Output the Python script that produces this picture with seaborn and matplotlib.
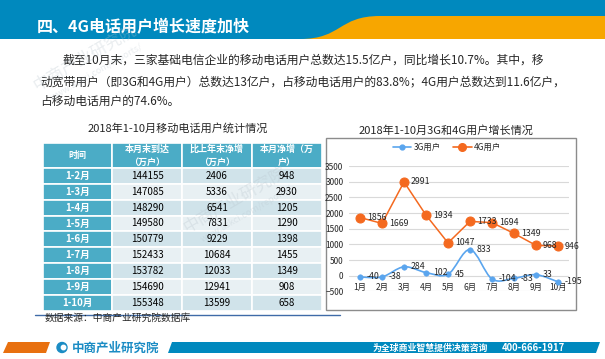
import numpy as np
import pandas as pd
import seaborn as sns
import matplotlib.pyplot as plt
from matplotlib.patches import Rectangle, Polygon, PathPatch, Circle
from matplotlib.path import Path
from matplotlib.lines import Line2D

# chart data
months = ['1月', '2月', '3月', '4月', '5月', '6月', '7月', '8月', '9月', '10月']
users_3g = [-40, -38, 284, 102, 45, 833, -104, -83, 33, -195]
users_4g = [1856, 1669, 2991, 1934, 1047, 1733, 1694, 1349, 968, 946]

# table data
periods = ['1-2月', '1-3月', '1-4月', '1-5月', '1-6月', '1-7月', '1-8月', '1-9月', '1-10月']
arrivals = [144155, 147085, 148290, 149580, 150779, 152433, 153782, 154690, 155348]
ytd_net = [2406, 5336, 6541, 7831, 9229, 10684, 12033, 12941, 13599]
month_net = [948, 2930, 1205, 1290, 1398, 1455, 1349, 908, 658]
headers = ['时间', '本月末到达\n（万户）', '比上年末净增\n（万户）', '本月净增（万\n户）']

title = '四、4G电话用户增长速度加快'
body = ['截至10月末，三家基础电信企业的移动电话用户总数达15.5亿户，同比增长10.7%。其中，移',
        '动宽带用户（即3G和4G用户）总数达13亿户，占移动电话用户的83.8%；4G用户总数达到11.6亿户，',
        '占移动电话用户的74.6%。']

BLUE = '#0089BE'
TEAL = '#4BACC6'
C3G = '#5AA5EE'
C4G = '#F4691F'

sns.set_theme(style='white')
plt.rcParams['font.family'] = ['Noto Sans CJK SC', 'DejaVu Sans']

fig = plt.figure(figsize=(6.05, 3.59), dpi=100)
fig.patch.set_facecolor('white')

# background layer in pixel coords
bg = fig.add_axes([0, 0, 1, 1])
bg.set_xlim(0, 605)
bg.set_ylim(359, 0)
bg.axis('off')

# header band
bg.add_patch(Rectangle((0, 0), 605, 39, color=BLUE, lw=0))
wave = Path([(300, 39), (342, 39), (338, 16), (380, 16), (605, 16), (605, 39), (300, 39)],
            [Path.MOVETO, Path.CURVE4, Path.CURVE4, Path.CURVE4, Path.LINETO, Path.LINETO, Path.CLOSEPOLY])
bg.add_patch(PathPatch(wave, color='#F7A600', lw=0))
bg.text(37, 27, title, color='white', fontsize=11.5, fontweight='bold', va='center')

# body text
bg.text(63, 60, body[0], fontsize=8.5, va='center')
bg.text(40, 82, body[1], fontsize=8.5, va='center')
bg.text(40, 101, body[2], fontsize=8.5, va='center')

# watermarks
for (wx, wy) in [(85, 58), (235, 200)]:
    bg.text(wx, wy, '中商产业研究院', fontsize=12, color='#B8C4CC', alpha=0.3,
            rotation=30, ha='center', va='center')
    bg.text(wx + 12, wy + 14, 'www.askci.com/reports/', fontsize=6.5, color='#B8C4CC', alpha=0.3,
            rotation=30, ha='center', va='center')

# table
bg.text(178, 128, '2018年1-10月移动电话用户统计情况', fontsize=8, ha='center', va='center')
col_edges = [43, 112, 182, 252, 322]
top, head_h, row_h = 143, 25, 15.85
for j in range(4):
    bg.add_patch(Rectangle((col_edges[j], top), col_edges[j + 1] - col_edges[j], head_h,
                           facecolor=TEAL, edgecolor='white', lw=1.2))
    bg.text((col_edges[j] + col_edges[j + 1]) / 2, top + head_h / 2, headers[j], color='white',
            fontsize=6.5, fontweight='bold', ha='center', va='center', linespacing=1.5)
for i, p in enumerate(periods):
    y0 = top + head_h + i * row_h
    fill = '#D0E3EA' if i % 2 == 0 else '#E8F0F3'
    cells = [p, arrivals[i], ytd_net[i], month_net[i]]
    for j in range(4):
        bg.add_patch(Rectangle((col_edges[j], y0), col_edges[j + 1] - col_edges[j], row_h,
                               facecolor=TEAL if j == 0 else fill, edgecolor='white', lw=1.2))
        bg.text((col_edges[j] + col_edges[j + 1]) / 2, y0 + row_h / 2, str(cells[j]),
                color='white' if j == 0 else 'black', fontweight='bold' if j == 0 else 'normal',
                fontsize=7, ha='center', va='center')

bg.plot([35, 340], [315, 315], color='#3F6BA8', lw=1)
bg.text(45, 318, '数据来源：中商产业研究院数据库', fontsize=7, va='center')

# chart box and title
bg.add_patch(Rectangle((326, 138), 250, 172, facecolor='none', edgecolor='#8C8C8C', lw=1))
bg.text(446, 130, '2018年1-10月3G和4G用户增长情况', fontsize=8, ha='center', va='center')

# footer
bg.add_patch(Polygon([(3, 353), (8, 342), (50, 342), (46, 353)], color='#E8700F', lw=0))
bg.add_patch(Circle((62, 347.5), 5, color='#1B8CC4'))
bg.add_patch(Circle((63.5, 347.5), 2.2, color='white'))
bg.text(72, 348, '中商产业研究院', color='#1B8CC4', fontsize=9, fontweight='bold', va='center')
bg.add_patch(Polygon([(168, 353), (172, 342), (600, 342), (596, 353)], color=BLUE, lw=0))
bg.text(373, 348, '为全球商业智慧提供决策咨询', color='white', fontsize=6.4, fontweight='bold', va='center')
bg.text(502, 348, '400-666-1917', color='white', fontsize=6.8, fontweight='bold', va='center')

# line chart
ax = fig.add_axes([349 / 605, 1 - 291.4 / 359, 220 / 605, 125.4 / 359])
ax.set_facecolor('none')
x = np.arange(len(months))
df = pd.DataFrame({'x': x, 'g3': users_3g, 'g4': users_4g})


def smooth_path(xs, ys):
    pts = np.column_stack([xs, ys]).astype(float)
    ext = np.vstack([pts[0], pts, pts[-1]])
    verts = [pts[0]]
    codes = [Path.MOVETO]
    for i in range(len(pts) - 1):
        p0, p1, p2, p3 = ext[i], ext[i + 1], ext[i + 2], ext[i + 3]
        verts += [p1 + (p2 - p0) / 6, p2 - (p3 - p1) / 6, p2]
        codes += [Path.CURVE4] * 3
    return Path(verts, codes)


ax.add_patch(PathPatch(smooth_path(df['x'], df['g3']), facecolor='none', edgecolor=C3G, lw=1.2))
sns.scatterplot(data=df, x='x', y='g3', ax=ax, color=C3G, s=16, edgecolor=C3G, zorder=3)
sns.lineplot(data=df, x='x', y='g4', ax=ax, color=C4G, lw=1.1, marker='o', markersize=6.5,
             markeredgecolor=C4G, zorder=3)

for i in range(len(months)):
    ax.annotate(str(users_4g[i]), (x[i], users_4g[i]), xytext=(5, 0), textcoords='offset points',
                fontsize=6.3, ha='left', va='center')
    ax.annotate(str(users_3g[i]), (x[i], users_3g[i]), xytext=(5, 0), textcoords='offset points',
                fontsize=6.3, ha='left', va='center')

ax.set_xlim(-0.5, 9.5)
ax.set_ylim(-500, 3500)
ax.set_yticks(range(-500, 3501, 500))
ax.yaxis.grid(True, color='#D9D9D9', lw=0.8)
ax.set_axisbelow(True)
ax.set_xticks(x, months)
for s in ax.spines.values():
    s.set_visible(False)
ax.spines['bottom'].set_position(('data', 0))
ax.tick_params(axis='x', length=0, labelsize=6, pad=5)
ax.tick_params(axis='y', length=0, labelsize=6, pad=4)
ax.set_xlabel('')
ax.set_ylabel('')

handles = [Line2D([], [], color=C3G, marker='o', ms=3.5, lw=1.2),
           Line2D([], [], color=C4G, marker='o', ms=5.5, lw=1.2)]
fig.legend(handles, ['3G用户', '4G用户'], loc='center', bbox_to_anchor=(447 / 605, 1 - 147 / 359),
           ncol=2, frameon=False, fontsize=6, handlelength=2.2, columnspacing=1.5, handletextpad=0.3)

fig.savefig('out.png', dpi=100)
